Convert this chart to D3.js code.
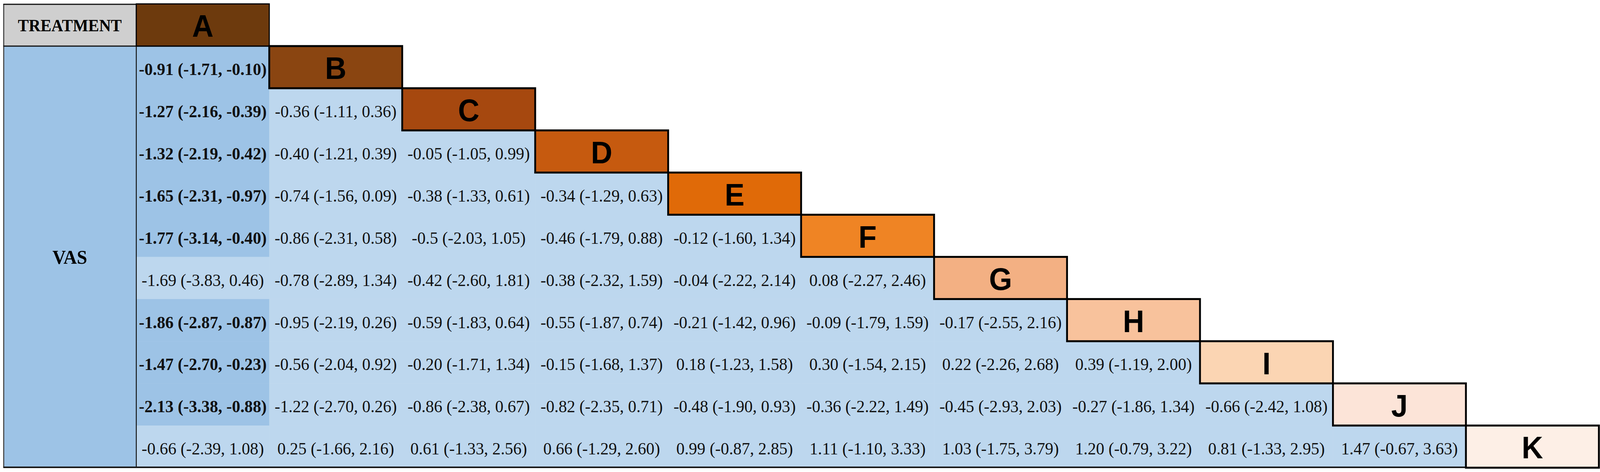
<!DOCTYPE html>
<html>
<head>
<meta charset="utf-8">
<script src="https://cdn.jsdelivr.net/npm/d3@7"></script>
<style>
    html, body { margin: 0; padding: 0; background: #fff; overflow: hidden; }
    #chart { width: 100vw; height: 100vh; }
    #chart svg { display: block; }
</style>
</head>
<body>
<div id="chart"></div>
<script>
// treatments on the diagonal, in order
const treatments = ["A", "B", "C", "D", "E", "F", "G", "H", "I", "J", "K"];
const diagonalColors = ["#6d3a0d", "#8a4511", "#a6480f", "#c65a0f", "#e06a08", "#ef8424",
    "#f3b083", "#f8c29c", "#fbd5b3", "#fce4d8", "#fdefe6"];
const headerLabel = "TREATMENT";
const outcomeLabel = "VAS";

// row treatment vs column treatment: estimate (lower, upper)
const estimates = [
    [],
    ["-0.91"],
    ["-1.27", "-0.36"],
    ["-1.32", "-0.40", "-0.05"],
    ["-1.65", "-0.74", "-0.38", "-0.34"],
    ["-1.77", "-0.86", "-0.5", "-0.46", "-0.12"],
    ["-1.69", "-0.78", "-0.42", "-0.38", "-0.04", "0.08"],
    ["-1.86", "-0.95", "-0.59", "-0.55", "-0.21", "-0.09", "-0.17"],
    ["-1.47", "-0.56", "-0.20", "-0.15", "0.18", "0.30", "0.22", "0.39"],
    ["-2.13", "-1.22", "-0.86", "-0.82", "-0.48", "-0.36", "-0.45", "-0.27", "-0.66"],
    ["-0.66", "0.25", "0.61", "0.66", "0.99", "1.11", "1.03", "1.20", "0.81", "1.47"]
];
const lowers = [
    [],
    ["-1.71"],
    ["-2.16", "-1.11"],
    ["-2.19", "-1.21", "-1.05"],
    ["-2.31", "-1.56", "-1.33", "-1.29"],
    ["-3.14", "-2.31", "-2.03", "-1.79", "-1.60"],
    ["-3.83", "-2.89", "-2.60", "-2.32", "-2.22", "-2.27"],
    ["-2.87", "-2.19", "-1.83", "-1.87", "-1.42", "-1.79", "-2.55"],
    ["-2.70", "-2.04", "-1.71", "-1.68", "-1.23", "-1.54", "-2.26", "-1.19"],
    ["-3.38", "-2.70", "-2.38", "-2.35", "-1.90", "-2.22", "-2.93", "-1.86", "-2.42"],
    ["-2.39", "-1.66", "-1.33", "-1.29", "-0.87", "-1.10", "-1.75", "-0.79", "-1.33", "-0.67"]
];
const uppers = [
    [],
    ["-0.10"],
    ["-0.39", "0.36"],
    ["-0.42", "0.39", "0.99"],
    ["-0.97", "0.09", "0.61", "0.63"],
    ["-0.40", "0.58", "1.05", "0.88", "1.34"],
    ["0.46", "1.34", "1.81", "1.59", "2.14", "2.46"],
    ["-0.87", "0.26", "0.64", "0.74", "0.96", "1.59", "2.16"],
    ["-0.23", "0.92", "1.34", "1.37", "1.58", "2.15", "2.68", "2.00"],
    ["-0.88", "0.26", "0.67", "0.71", "0.93", "1.49", "2.03", "1.34", "1.08"],
    ["1.08", "2.16", "2.56", "2.60", "2.85", "3.33", "3.79", "3.22", "2.95", "3.63"]
];

class LeagueTable {
    constructor(parentElement) {
        this.parentElement = parentElement;
        this.initVis();
    }

    initVis() {
        let vis = this;

        // drawing space of the reference picture, scaled to fit the window
        vis.width = 4317;
        vis.height = 1208;

        vis.svg = d3.select("#" + vis.parentElement).append("svg")
            .attr("width", "100%")
            .attr("height", "100%")
            .attr("viewBox", `0 0 ${vis.width} ${vis.height}`)
            .attr("preserveAspectRatio", "none");

        vis.x = d3.scaleBand()
            .domain(["label", ...treatments])
            .range([9, 4314]);

        vis.y = d3.scaleBand()
            .domain(treatments)
            .range([10, 1197]);

        vis.cellFill = "#bdd7ee";
        vis.sigFill = "#9dc3e6";

        vis.wrangleData();
    }

    wrangleData() {
        let vis = this;

        vis.cells = [];
        treatments.forEach((rowT, r) => {
            estimates[r].forEach((est, c) => {
                const lo = +lowers[r][c], hi = +uppers[r][c];
                vis.cells.push({
                    row: rowT,
                    col: treatments[c],
                    text: `${est} (${lowers[r][c]}, ${uppers[r][c]})`,
                    significant: hi < 0 || lo > 0
                });
            });
        });

        vis.diagonal = treatments.map((t, i) => ({ key: t, color: diagonalColors[i] }));

        vis.updateVis();
    }

    updateVis() {
        let vis = this;
        const bw = vis.x.bandwidth(), bh = vis.y.bandwidth();
        const top = vis.y.range()[0], bottom = vis.y.range()[1];
        const left = vis.x("label");

        // outcome column
        vis.svg.append("rect")
            .attr("x", left)
            .attr("y", vis.y("B"))
            .attr("width", bw)
            .attr("height", bottom - vis.y("B"))
            .attr("fill", vis.sigFill);

        vis.svg.append("text")
            .attr("x", left + bw / 2)
            .attr("y", (vis.y("B") + bottom) / 2)
            .attr("dy", "0.35em")
            .attr("text-anchor", "middle")
            .attr("font-family", "'Times New Roman', 'Liberation Serif', serif")
            .attr("font-weight", "bold")
            .attr("font-size", 50)
            .text(outcomeLabel);

        // header cell
        vis.svg.append("rect")
            .attr("x", left)
            .attr("y", top)
            .attr("width", bw)
            .attr("height", bh)
            .attr("fill", "#cfcfcf");

        vis.svg.append("text")
            .attr("x", left + bw / 2)
            .attr("y", top + bh / 2)
            .attr("dy", "0.36em")
            .attr("text-anchor", "middle")
            .attr("font-family", "'Times New Roman', 'Liberation Serif', serif")
            .attr("font-weight", "bold")
            .attr("font-size", 44)
            .text(headerLabel);

        // comparison cells
        const cellG = vis.svg.append("g").attr("class", "cells");

        cellG.selectAll(".cell")
            .data(vis.cells)
            .enter()
            .append("rect")
            .attr("class", "cell")
            .attr("x", d => vis.x(d.col))
            .attr("y", d => vis.y(d.row))
            .attr("width", bw + 0.5)
            .attr("height", bh + 0.5)
            .attr("fill", d => d.significant ? vis.sigFill : vis.cellFill);

        cellG.selectAll(".cell-label")
            .data(vis.cells)
            .enter()
            .append("text")
            .attr("class", "cell-label")
            .attr("x", d => vis.x(d.col) + bw / 2)
            .attr("y", d => vis.y(d.row) + bh / 2)
            .attr("dy", "0.45em")
            .attr("text-anchor", "middle")
            .attr("font-family", "'Times New Roman', 'Liberation Serif', serif")
            .attr("font-size", 45)
            .attr("font-weight", d => d.significant ? "bold" : "normal")
            .attr("fill", "#111")
            .text(d => d.text);

        // grid lines
        vis.svg.append("line")
            .attr("x1", left + 1).attr("x2", left + 1)
            .attr("y1", top).attr("y2", bottom)
            .attr("stroke", "#4a4a4a").attr("stroke-width", 3);

        vis.svg.append("line")
            .attr("x1", left).attr("x2", vis.x("A") + bw)
            .attr("y1", top + 1).attr("y2", top + 1)
            .attr("stroke", "#111").attr("stroke-width", 3);

        vis.svg.append("line")
            .attr("x1", left).attr("x2", vis.x("A") + bw)
            .attr("y1", vis.y("B")).attr("y2", vis.y("B"))
            .attr("stroke", "#111").attr("stroke-width", 3);

        vis.svg.append("line")
            .attr("x1", vis.x("A")).attr("x2", vis.x("A"))
            .attr("y1", top).attr("y2", bottom)
            .attr("stroke", "#111").attr("stroke-width", 2.5);

        vis.svg.append("line")
            .attr("x1", left).attr("x2", vis.x("K"))
            .attr("y1", bottom - 1).attr("y2", bottom - 1)
            .attr("stroke", "#1a1a1a").attr("stroke-width", 4);

        // diagonal treatment boxes
        const diagG = vis.svg.append("g").attr("class", "diagonal");

        diagG.selectAll(".treat")
            .data(vis.diagonal)
            .enter()
            .append("rect")
            .attr("class", "treat")
            .attr("x", d => vis.x(d.key))
            .attr("y", d => vis.y(d.key))
            .attr("width", bw)
            .attr("height", bh)
            .attr("fill", d => d.color)
            .attr("stroke", "#000")
            .attr("stroke-width", d => d.key === "A" ? 3 : 5);

        diagG.selectAll(".treat-label")
            .data(vis.diagonal)
            .enter()
            .append("text")
            .attr("class", "treat-label")
            .attr("x", d => vis.x(d.key) + bw / 2)
            .attr("y", d => vis.y(d.key) + bh / 2)
            .attr("dy", "0.38em")
            .attr("text-anchor", "middle")
            .attr("font-family", "Arial, 'Liberation Sans', sans-serif")
            .attr("font-weight", "bold")
            .attr("font-size", 80)
            .attr("fill", "#000")
            .text(d => d.key);
    }
}

new LeagueTable("chart");
</script>
</body>
</html>
